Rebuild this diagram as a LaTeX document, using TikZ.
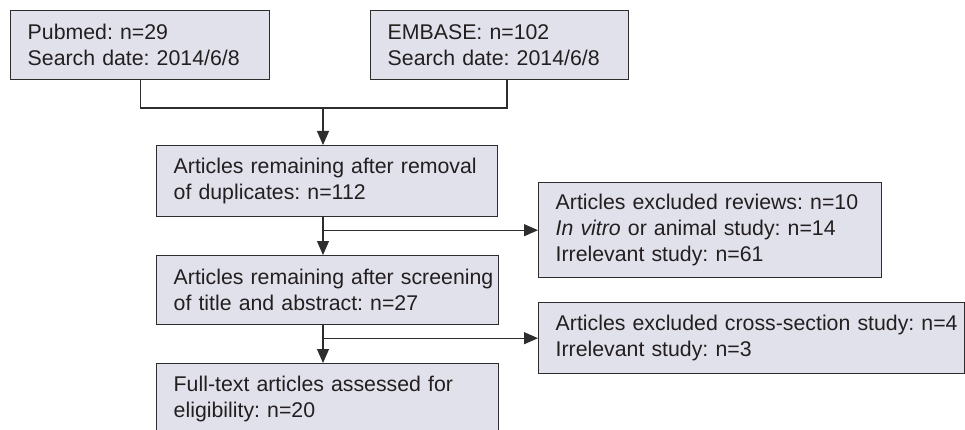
\documentclass[tikz,border=0pt]{standalone}
\usepackage{fontspec}
\setmainfont{Liberation Sans}
\usetikzlibrary{arrows.meta}
\definecolor{boxfill}{RGB}{225,225,236}
\definecolor{edgecol}{RGB}{45,45,45}
\definecolor{txtcol}{RGB}{35,31,32}
\newcommand\boxline[1]{\mbox{#1}}
\frenchspacing
\begin{document}
\begin{tikzpicture}[x=1pt,y=-1pt,
  box/.style={draw=edgecol, line width=1.4pt, fill=boxfill, anchor=north west,
    inner xsep=17pt, inner ysep=0pt, align=left, text=txtcol,
    font=\fontsize{21.3}{26}\selectfont\frenchspacing},
  link/.style={draw=edgecol, line width=1.1pt},
  arr/.style={link, -{Triangle[length=14pt,width=12pt]}}]
\useasboundingbox (0,0) rectangle (965,430);
\clip (0,0) rectangle (965,430);
\coordinate (m) at (323,108);
\coordinate (rj) at (507,108);
\node[box, text width=225pt, minimum height=69pt] (b1) at (10,10)
  {\boxline{Pubmed: n=29}\\\boxline{Search date: 2014/6/8}};
\node[box, text width=224pt, minimum height=69pt] (b2) at (370,10)
  {\boxline{EMBASE: n=102}\\\boxline{Search date: 2014/6/8}};
\node[box, text width=307pt, minimum height=71pt] (b3) at (156,145)
  {\boxline{Articles remaining after removal}\\\boxline{of duplicates: n=112}};
\node[box, text width=308pt, minimum height=69pt] (b4) at (156,255)
  {\boxline{Articles remaining after screening}\\\boxline{of title and abstract: n=27}};
\node[box, text width=309pt, minimum height=95pt] (b5) at (538,182)
  {\boxline{Articles excluded reviews: n=10}\\\boxline{\textit{In vitro} or animal study: n=14}\\\boxline{Irrelevant study: n=61}};
\node[box, text width=392pt, minimum height=71pt] (b6) at (538,302)
  {\boxline{Articles excluded cross-section study: n=4}\\\boxline{Irrelevant study: n=3}};
\node[box, text width=308pt, minimum height=71pt] (b7) at (156,363)
  {\boxline{Full-text articles assessed for}\\\boxline{eligibility: n=20}};
\draw[link] (b1.south) |- (rj) -- (b2.south -| rj);
\draw[arr] (m) -- (b3.north -| m);
\draw[arr] (b3.south -| m) -- (b4.north -| m);
\draw[arr] (m |- b5.west) -- (b5.west);
\draw[arr] (b4.south -| m) -- (b7.north -| m);
\draw[arr] (m |- b6.west) -- (b6.west);
\end{tikzpicture}
\end{document}
